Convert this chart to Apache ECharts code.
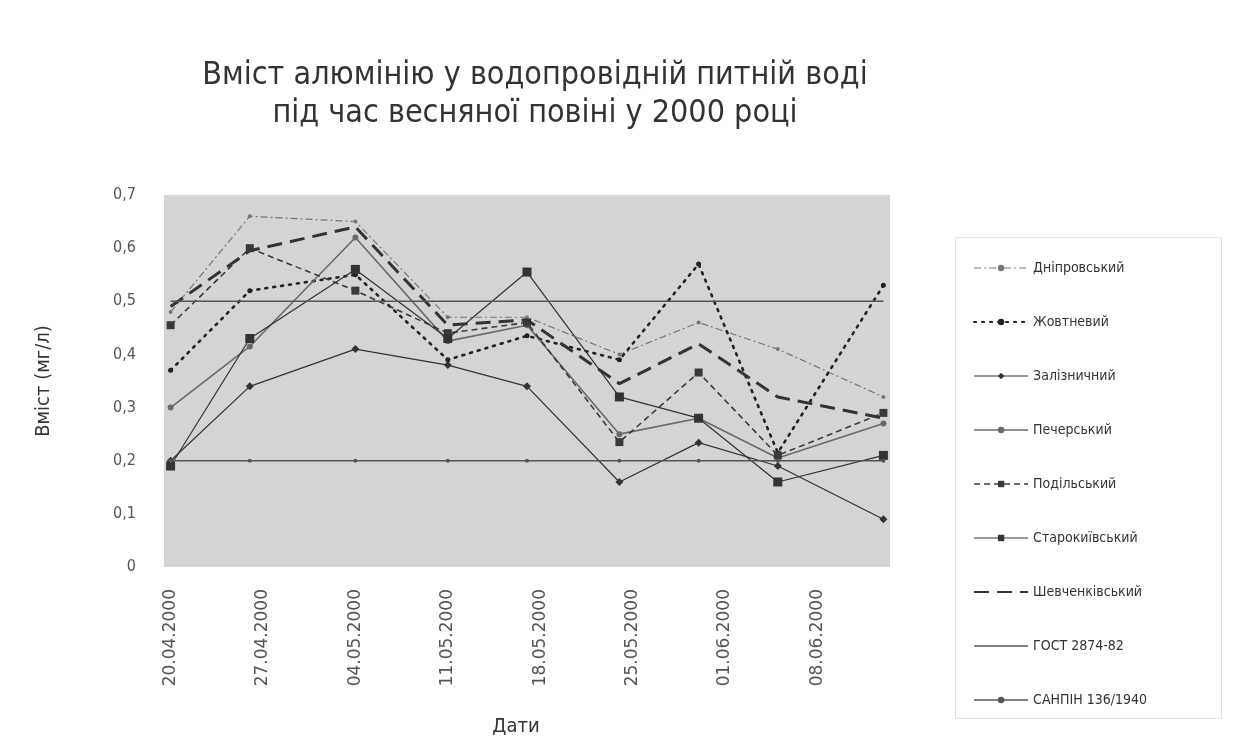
<!DOCTYPE html>
<html><head><meta charset="utf-8">
<script src="https://cdn.jsdelivr.net/npm/echarts@6/dist/echarts.min.js"></script>
<style>html,body{margin:0;padding:0;background:#fff}#c{width:1236px;height:742px}</style>
</head><body><div id="c"></div>
<script>
// ---- data ----
const sampleDates = ['20.04.2000','26.04.2000','04.05.2000','11.05.2000','17.05.2000','24.05.2000','30.05.2000','05.06.2000','13.06.2000'];
const tickLabels = ['20.04.2000','27.04.2000','04.05.2000','11.05.2000','18.05.2000','25.05.2000','01.06.2000','08.06.2000'];
const yTicks = ['0','0,1','0,2','0,3','0,4','0,5','0,6','0,7'];
const dnipro      = [0.48, 0.66, 0.65, 0.47, 0.47, 0.40, 0.46, 0.41, 0.32];
const zhovtnevyi  = [0.37, 0.52, 0.55, 0.39, 0.435, 0.39, 0.57, 0.215, 0.53];
const zaliznychnyi= [0.20, 0.34, 0.41, 0.38, 0.34, 0.16, 0.234, 0.19, 0.09];
const pechersk    = [0.30, 0.415, 0.62, 0.425, 0.455, 0.25, 0.28, 0.205, 0.27];
const podil       = [0.455, 0.60, 0.52, 0.44, 0.46, 0.235, 0.366, 0.21, 0.29];
const starokyiv   = [0.19, 0.43, 0.56, 0.43, 0.555, 0.32, 0.28, 0.16, 0.21];
const shevchenko  = [0.49, 0.595, 0.64, 0.455, 0.465, 0.345, 0.42, 0.32, 0.28];
const gost        = [0.5, 0.5, 0.5, 0.5, 0.5, 0.5, 0.5, 0.5, 0.5];
const sanpin      = [0.2, 0.2, 0.2, 0.2, 0.2, 0.2, 0.2, 0.2, 0.2];
const seriesNames = ['Дніпровський','Жовтневий','Залізничний','Печерський','Подільський','Старокиївський','Шевченківський','ГОСТ 2874-82','САНПІН 136/1940'];
const titleLines = ['Вміст алюмінію у водопровідній питній воді','під час весняної повіні у 2000 році'];

// ---- day categories (date axis like the original) ----
function fmt(d){const p=n=>String(n).padStart(2,'0');return p(d.getUTCDate())+'.'+p(d.getUTCMonth()+1)+'.'+d.getUTCFullYear();}
function parse(s){const [dd,mm,yy]=s.split('.').map(Number);return Date.UTC(yy,mm-1,dd);}
const days=[];
for(let t=parse(sampleDates[0]);t<=parse(sampleDates[sampleDates.length-1]);t+=86400000){days.push(fmt(new Date(t)));}
const pairs = vals => sampleDates.map((d,i)=>[d, vals[i]]);

const FONT = "'DejaVu Sans Condensed','Liberation Sans Narrow','Noto Sans',sans-serif";
const styles = [
  {data:dnipro, color:'#777', width:1.2, type:[7,3,2,3], symbol:'circle', size:4},
  {data:zhovtnevyi, color:'#222', width:2.6, type:[2,6], symbol:'circle', size:5, cap:'round'},
  {data:zaliznychnyi, color:'#333', width:1.2, type:'solid', symbol:'diamond', size:8},
  {data:pechersk, color:'#6a6a6a', width:1.6, type:'solid', symbol:'circle', size:6},
  {data:podil, color:'#3a3a3a', width:1.6, type:[6,4], symbol:'rect', size:8},
  {data:starokyiv, color:'#333', width:1.2, type:'solid', symbol:'rect', size:9},
  {data:shevchenko, color:'#333', width:3, type:[15,8], symbol:'none', size:0},
  {data:gost, color:'#555', width:1.5, type:'solid', symbol:'none', size:0},
  {data:sanpin, color:'#555', width:1.5, type:'solid', symbol:'circle', size:4}
];
const series = styles.map((s,i)=>({
  name: seriesNames[i], type:'line', data: pairs(s.data),
  symbol: s.symbol, symbolSize: s.size, showSymbol: s.symbol!=='none',
  itemStyle:{color:s.color},
  lineStyle:{color:s.color, width:s.width, type:s.type, cap:s.cap||'butt'},
  emphasis:{disabled:true}, animation:false, z: 2+i
}));
const legendData = seriesNames.map((n,i)=>{
  const s = styles[i];
  const item = {name:n, lineStyle:{width:Math.min(s.width,2.2)}};
  if (s.symbol==='none') item.itemStyle = {opacity:0};
  return item;
});

const chart = echarts.init(document.getElementById('c'), null, {renderer:'canvas'});
chart.setOption({
  backgroundColor:'#fff',
  animation:false,
  textStyle:{fontFamily:FONT},
  title:{
    text: titleLines.join('\n'), left: 530, top: 52, textAlign:'center',
    textStyle:{fontFamily:FONT, fontSize:32, fontWeight:'normal', color:'#333', lineHeight:38}
  },
  grid:{left:164, right:346, top:195, bottom:174, show:true, backgroundColor:'#d4d4d4', borderWidth:0},
  graphic:[{type:'rect', shape:{x:955.5,y:237.5,width:266,height:481}, style:{fill:'none', stroke:'#e2e2e2', lineWidth:1}}],
  legend:{
    orient:'vertical', left:968, top:256, itemWidth:54, itemHeight:8, itemGap:40,
    data: legendData,
    textStyle:{fontFamily:FONT, fontSize:14, color:'#333'}
  },
  xAxis:{
    type:'category', data: days, boundaryGap:true,
    name:'Дати', nameLocation:'middle', nameGap:150,
    nameTextStyle:{fontFamily:FONT, fontSize:20, color:'#333', padding:[0,22,0,0]},
    axisLine:{show:false}, axisTick:{show:false},
    axisLabel:{interval:0, rotate:90, margin:22, fontFamily:"'DejaVu Sans','Noto Sans',sans-serif", fontSize:17, color:'#555',
      formatter: v => tickLabels.includes(v) ? v : ''}
  },
  yAxis:{
    type:'value', min:0, max:0.7, interval:0.1,
    name:'Вміст (мг/л)', nameLocation:'middle', nameGap:110,
    nameTextStyle:{fontFamily:FONT, fontSize:20, color:'#333'},
    axisLine:{show:false}, axisTick:{show:false}, splitLine:{show:false},
    axisLabel:{margin:28, fontFamily:FONT, fontSize:16, color:'#555',
      formatter: v => yTicks[Math.round(v*10)]}
  },
  series: series
});
</script></body></html>
